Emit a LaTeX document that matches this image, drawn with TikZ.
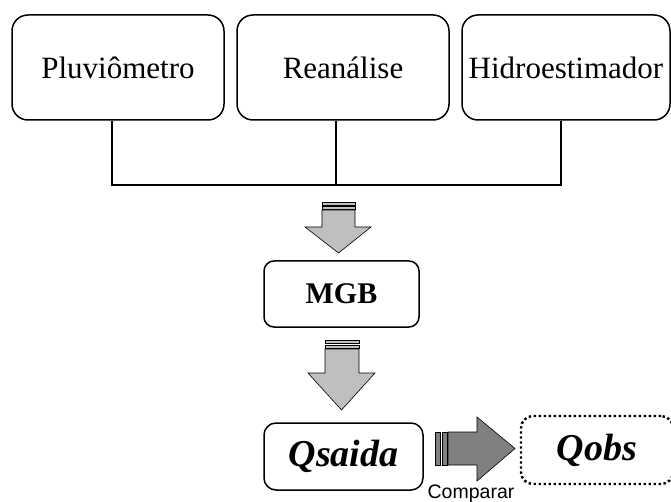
\documentclass[tikz,border=0pt]{standalone}
\usepackage{fontspec}
\setmainfont{Liberation Serif}
\setsansfont{Liberation Sans}
\begin{document}
\begin{tikzpicture}[x=1pt,y=-1pt,
  srcbox/.style={draw,line width=1.5pt,rounded corners=16pt,minimum width=#1,minimum height=105pt,inner sep=0pt,font=\fontsize{31}{36}\selectfont},
  midbox/.style={draw,line width=1.5pt,rounded corners=10pt,inner sep=0pt},
  link/.style={line width=1.5pt},
  garrow/.style={draw,line width=0.6pt,fill=gray!50},
  darrow/.style={draw,line width=0.6pt,fill=black!50},
]
\useasboundingbox (0,0) rectangle (671,502);
\node[srcbox=212pt] (p) at (118,67.5) {Pluviômetro};
\node[srcbox=212pt] (r) at (343,67.5) {Reanálise};
\node[srcbox=208pt] (h) at (566,67.5) {Hidroestimador};
\coordinate (bus) at (336,185);
\draw[link] ([xshift=-6pt]p.south) |- (bus);
\draw[link] ([xshift=-5pt]h.south) |- (bus);
\draw[link] ([xshift=-7pt]r.south) -- (bus);
% arrow 1
\draw[garrow] (322,202) rectangle (355,205);
\draw[garrow] (322,206.5) rectangle (355,209);
\draw[garrow] (322,210) -- (355,210) -- (355,227) -- (371,227) -- (338.5,253) -- (305,227) -- (322,227) -- cycle;
\node[midbox,minimum width=155pt,minimum height=66pt,font=\fontsize{30}{34}\selectfont\bfseries] (m) at (341.5,294) {MGB};
% arrow 2
\draw[garrow] (325,340) rectangle (359,343.5);
\draw[garrow] (325,345) rectangle (359,348);
\draw[garrow] (325,349) -- (359,349) -- (359,373) -- (375,373) -- (341.5,410) -- (308,373) -- (325,373) -- cycle;
\node[midbox,rounded corners=12pt,minimum width=159pt,minimum height=67pt,font=\fontsize{38}{42}\selectfont\bfseries\itshape] (q) at (343.5,456.5) {Qsaida};
\node[draw,line width=2.4pt,dash pattern=on 2.4pt off 2.6pt,rounded corners=12pt,minimum width=152pt,minimum height=68pt,inner sep=0pt,font=\fontsize{38}{42}\selectfont\bfseries\itshape] (o) at (597,450) {Qobs};
% horizontal arrow
\draw[darrow] (435,432) rectangle (440,465);
\draw[darrow] (442,432) rectangle (447,465);
\draw[darrow] (448,432) -- (477,432) -- (477,417) -- (515,448.5) -- (477,481) -- (477,465) -- (448,465) -- cycle;
\node[font=\sffamily\fontsize{19.5}{22}\selectfont] (c) at (471,494) {Comparar};
\end{tikzpicture}
\end{document}
